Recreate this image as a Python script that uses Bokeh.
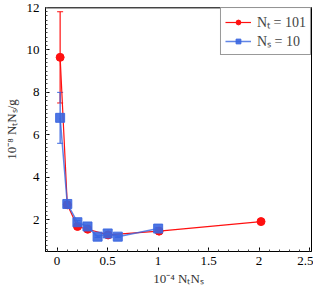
from bokeh.plotting import figure
from bokeh.models import ColumnDataSource, Whisker, Span, Legend, LegendItem, FixedTicker, Range1d
from bokeh.embed import file_html
from bokeh.resources import INLINE

# N_T = 101 series (x = 1e-4 N_T N_S, y = 1e-8 N_T N_S / g)
red_x = [0.03, 0.101, 0.202, 0.303, 0.505, 1.01, 2.02]
red_y = [9.65, 2.7, 1.68, 1.55, 1.28, 1.46, 1.91]
red_err = [2.15, 0.1, 0.05, 0.05, 0.04, 0.04, 0.04]

# N_S = 10 series
blue_x = [0.03, 0.101, 0.201, 0.301, 0.401, 0.501, 0.601, 1.001]
blue_y = [6.8, 2.74, 1.88, 1.68, 1.2, 1.35, 1.2, 1.58]
blue_err = [1.2, 0.12, 0.08, 0.06, 0.04, 0.04, 0.04, 0.05]

x_ticks = [0, 0.5, 1, 1.5, 2, 2.5]
y_ticks = [2, 4, 6, 8, 10, 12]

RED = "#ff1010"
BLUE = "#3a66e0"
FONT = "Liberation Serif"

p = figure(width=313, height=288, output_backend="svg", toolbar_location=None,
           x_range=Range1d(-0.115, 2.52), y_range=Range1d(0.5, 12.0),
           min_border_left=42, min_border_right=2, min_border_top=7, min_border_bottom=0)
p.background_fill_color = "white"
p.border_fill_color = "white"
p.grid.visible = False
p.outline_line_color = "black"
p.outline_line_width = 1

def sty(ax):
    ax.axis_line_color = "black"
    ax.major_tick_in = 4
    ax.major_tick_out = 0
    ax.minor_tick_in = 2
    ax.minor_tick_out = 0
    ax.major_tick_line_color = "black"
    ax.minor_tick_line_color = "#444444"
    ax.major_label_text_font = FONT
    ax.major_label_text_font_size = "13px"
    ax.major_label_text_color = "black"
    ax.axis_label_text_font = FONT
    ax.axis_label_text_font_size = "13px"
    ax.axis_label_text_font_style = "normal"
    ax.axis_label_text_color = "#333333"

p.xaxis.ticker = FixedTicker(ticks=x_ticks, minor_ticks=[i * 0.1 for i in range(-1, 26)])
p.yaxis.ticker = FixedTicker(ticks=y_ticks, minor_ticks=[i * 0.2 for i in range(2, 61)])
p.xaxis.major_label_overrides = {0: "0", 0.5: "0.5", 1: "1", 1.5: "1.5", 2: "2", 2.5: "2.5"}
p.xaxis.axis_label = "10⁻⁴ NₜNₛ"
p.yaxis.axis_label = "10⁻⁸ NₜNₛ/g"
sty(p.xaxis[0])
sty(p.yaxis[0])
p.xaxis.major_label_standoff = 5
p.yaxis.major_label_standoff = 6
p.xaxis.axis_label_standoff = 3

top = Span(location=12.0, dimension="width", line_color="#888888", line_width=2.5)
p.add_layout(top)

rs = ColumnDataSource(dict(x=red_x, y=red_y,
                           lo=[a - b for a, b in zip(red_y, red_err)],
                           hi=[a + b for a, b in zip(red_y, red_err)]))
bs = ColumnDataSource(dict(x=blue_x, y=blue_y,
                           lo=[a - b for a, b in zip(blue_y, blue_err)],
                           hi=[a + b for a, b in zip(blue_y, blue_err)]))

wr = Whisker(source=rs, base="x", upper="hi", lower="lo", line_color=RED, line_width=1.2)
wr.upper_head.line_color = RED
wr.lower_head.line_color = RED
wr.upper_head.size = 6
wr.lower_head.size = 6
p.add_layout(wr)

rl = p.line("x", "y", source=rs, line_color=RED, line_width=1.2)
rm = p.scatter("x", "y", source=rs, marker="circle", size=8, fill_color=RED, line_color=RED)

wb = Whisker(source=bs, base="x", upper="hi", lower="lo", line_color=BLUE, line_width=1.2)
wb.upper_head.line_color = BLUE
wb.lower_head.line_color = BLUE
wb.upper_head.size = 6
wb.lower_head.size = 6
p.add_layout(wb)

bl = p.line("x", "y", source=bs, line_color=BLUE, line_width=1.5, line_alpha=0.8)
bm = p.scatter("x", "y", source=bs, marker="square", size=9, fill_color=BLUE, line_color=BLUE, alpha=0.9)

legend = Legend(items=[LegendItem(label="Nₜ = 101", renderers=[rl, rm]),
                       LegendItem(label="Nₛ = 10", renderers=[bl, bm])],
                location="top_right")
legend.label_text_font = FONT
legend.label_text_font_size = "14px"
legend.label_height = 12
legend.glyph_height = 12
legend.glyph_width = 26
legend.spacing = 0
legend.padding = 4
legend.margin = 0
legend.border_line_color = "#333333"
legend.border_line_width = 1
legend.label_standoff = 6
p.add_layout(legend)

open("out.html", "w").write(file_html(p, INLINE))
